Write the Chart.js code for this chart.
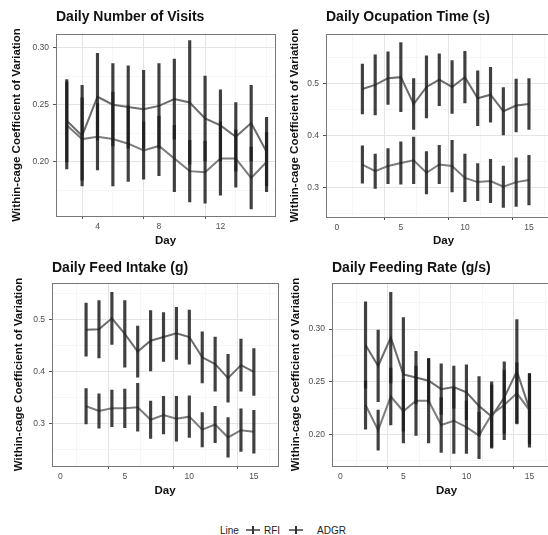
<!DOCTYPE html>
<html>
<head>
<meta charset="utf-8">
<script src="https://cdn.jsdelivr.net/npm/chart.js@4.4.0/dist/chart.umd.min.js"></script>
<style>
  html, body { margin: 0; padding: 0; background: #fff; width: 548px; height: 535px; overflow: hidden; position: relative; }
  canvas { position: absolute; }
  #legend { position: absolute; top: 523px; left: 220px; height: 14px; display: flex; align-items: center;
            font: 10px "Liberation Sans", Arial, sans-serif; color: #222; white-space: nowrap; }
  #legend .key { display: inline-block; position: relative; width: 14px; height: 12px; }
  #legend .key::before { content: ""; position: absolute; left: 0; right: 0; top: 5px; height: 2px; background: #707070; }
  #legend .key::after { content: ""; position: absolute; left: 6px; width: 2px; top: 2px; bottom: 2px; background: #333; }
</style>
</head>
<body>
<canvas id="chart_visits" width="280" height="252" style="left:0;top:0"></canvas>
<canvas id="chart_occupation" width="300" height="252" style="left:270px;top:0"></canvas>
<canvas id="chart_intake" width="285" height="252" style="left:0;top:250px"></canvas>
<canvas id="chart_rate" width="300" height="252" style="left:270px;top:250px"></canvas>
<div id="legend"></div>

<script>
const days = [2, 3, 4, 5, 6, 7, 8, 9, 10, 11, 12, 13, 14, 15];
const seriesNames = ['RFI', 'ADGR'];

// Daily Number of Visits
const visitsRfiMean = [0.236, 0.223, 0.257, 0.250, 0.248, 0.246, 0.249, 0.255, 0.252, 0.238, 0.232, 0.222, 0.234, 0.209];
const visitsRfiSe   = [0.036, 0.044, 0.038, 0.036, 0.036, 0.034, 0.037, 0.035, 0.054, 0.037, 0.031, 0.030, 0.033, 0.030];
const visitsAdgrMean = [0.232, 0.220, 0.222, 0.220, 0.216, 0.210, 0.214, 0.203, 0.192, 0.191, 0.203, 0.203, 0.186, 0.200];
const visitsAdgrSe   = [0.038, 0.036, 0.029, 0.041, 0.033, 0.025, 0.026, 0.029, 0.027, 0.027, 0.032, 0.025, 0.027, 0.026];

// Daily Ocupation Time (s)
const occupRfiMean = [0.490, 0.498, 0.511, 0.513, 0.461, 0.494, 0.508, 0.494, 0.513, 0.472, 0.479, 0.447, 0.458, 0.461];
const occupRfiSe   = [0.048, 0.058, 0.051, 0.067, 0.049, 0.060, 0.050, 0.051, 0.050, 0.053, 0.053, 0.046, 0.051, 0.049];
const occupAdgrMean = [0.344, 0.331, 0.341, 0.347, 0.352, 0.328, 0.344, 0.341, 0.318, 0.310, 0.312, 0.301, 0.310, 0.314];
const occupAdgrSe   = [0.036, 0.033, 0.034, 0.041, 0.045, 0.041, 0.037, 0.050, 0.046, 0.036, 0.042, 0.040, 0.047, 0.048];

// Daily Feed Intake (g)
const intakeRfiMean = [0.481, 0.482, 0.503, 0.473, 0.439, 0.460, 0.467, 0.474, 0.467, 0.428, 0.415, 0.388, 0.413, 0.400];
const intakeRfiSe   = [0.051, 0.055, 0.050, 0.064, 0.049, 0.058, 0.047, 0.050, 0.052, 0.049, 0.052, 0.046, 0.050, 0.045];
const intakeAdgrMean = [0.334, 0.325, 0.330, 0.330, 0.332, 0.308, 0.317, 0.310, 0.314, 0.289, 0.299, 0.274, 0.288, 0.285];
const intakeAdgrSe   = [0.034, 0.033, 0.035, 0.037, 0.046, 0.036, 0.036, 0.043, 0.040, 0.033, 0.035, 0.038, 0.041, 0.041];

// Daily Feeding Rate (g/s)
const rateRfiMean = [0.285, 0.265, 0.292, 0.257, 0.254, 0.251, 0.243, 0.245, 0.240, 0.227, 0.217, 0.235, 0.260, 0.224];
const rateRfiSe   = [0.041, 0.034, 0.043, 0.054, 0.025, 0.021, 0.024, 0.020, 0.026, 0.028, 0.030, 0.034, 0.049, 0.033];
const rateAdgrMean = [0.228, 0.204, 0.236, 0.222, 0.232, 0.232, 0.209, 0.213, 0.207, 0.199, 0.219, 0.228, 0.239, 0.223];
const rateAdgrSe   = [0.023, 0.019, 0.027, 0.030, 0.033, 0.040, 0.026, 0.031, 0.025, 0.022, 0.031, 0.033, 0.029, 0.035];

const FONT = '"Liberation Sans", Arial, sans-serif';
const lineColors = ['#6c6c6c', '#7c7c7c'];
const barColor = 'rgba(30, 30, 30, 0.85)';

function isStep(v, step) {
  return Math.abs(v / step - Math.round(v / step)) < 1e-6;
}

// major / minor styling for grid lines and tick marks
function byTick(step, major, minor) {
  return (ctx) => (ctx.tick && isStep(ctx.tick.value, step)) ? major : minor;
}

// draws the full panel frame like ggplot's panel.border
const panelBorder = {
  id: 'panelBorder',
  afterDraw(chart) {
    const {ctx, chartArea: a} = chart;
    ctx.save();
    ctx.strokeStyle = '#777';
    ctx.lineWidth = 1;
    ctx.strokeRect(Math.round(a.left) + 0.5, Math.round(a.top) + 0.5,
                   Math.round(a.right - a.left), Math.round(a.bottom - a.top));
    ctx.restore();
  }
};

function errorBars(label, mean, se) {
  return {
    type: 'bar',
    label: label,
    data: days.map((d, i) => ({x: d, y: [mean[i] - se[i], mean[i] + se[i]]})),
    backgroundColor: barColor,
    borderWidth: 0,
    barThickness: 2.5,
    grouped: false,
    order: 0
  };
}

function meanLine(label, mean, color) {
  return {
    type: 'line',
    label: label,
    data: days.map((d, i) => ({x: d, y: mean[i]})),
    borderColor: color,
    borderWidth: 2,
    pointRadius: 0,
    tension: 0,
    order: 1
  };
}

function makePanel(id, p) {
  const xMajor = p.xMajor, yMajor = p.yMajor;
  return new Chart(document.getElementById(id), {
    type: 'line',
    data: {
      datasets: [
        errorBars(seriesNames[0], p.rfiMean, p.rfiSe),
        errorBars(seriesNames[1], p.adgrMean, p.adgrSe),
        meanLine(seriesNames[0], p.rfiMean, lineColors[0]),
        meanLine(seriesNames[1], p.adgrMean, lineColors[1])
      ]
    },
    plugins: [panelBorder],
    options: {
      responsive: false,
      animation: false,
      events: [],
      layout: { padding: { left: 0, right: p.padRight, top: 0, bottom: 0 } },
      plugins: {
        legend: { display: false },
        tooltip: { enabled: false },
        title: {
          display: true,
          text: p.title,
          align: 'start',
          fullSize: false,
          color: '#111',
          font: { family: FONT, size: 14, weight: 'bold', lineHeight: 1.2 },
          padding: { top: p.titleTop, bottom: p.titleBottom }
        }
      },
      scales: {
        x: {
          type: 'linear',
          min: p.xMin,
          max: p.xMax,
          offset: false,
          afterFit: (scale) => { scale.height = p.xHeight; },
          border: { display: false },
          grid: {
            color: byTick(xMajor, '#e4e4e4', '#f2f2f2'),
            lineWidth: byTick(xMajor, 1, 0.7),
            tickColor: byTick(xMajor, '#555', 'rgba(0,0,0,0)'),
            tickLength: 3
          },
          ticks: {
            stepSize: xMajor / 2,
            includeBounds: false,
            autoSkip: false,
            maxRotation: 0,
            padding: 3,
            color: '#4d4d4d',
            font: { family: FONT, size: 8.5 },
            callback: (v) => isStep(v, xMajor) ? String(Math.round(v)) : ''
          },
          title: {
            display: true,
            text: 'Day',
            color: '#111',
            font: { family: FONT, size: 11.5, weight: 'bold', lineHeight: 1.2 },
            padding: { top: 0, bottom: 4 }
          }
        },
        y: {
          type: 'linear',
          min: p.yMin,
          max: p.yMax,
          afterFit: (scale) => { scale.width = p.yWidth; },
          border: { display: false },
          grid: {
            color: byTick(yMajor, '#e4e4e4', '#f2f2f2'),
            lineWidth: byTick(yMajor, 1, 0.7),
            tickColor: byTick(yMajor, '#555', 'rgba(0,0,0,0)'),
            tickLength: 3
          },
          ticks: {
            stepSize: yMajor / 2,
            includeBounds: false,
            autoSkip: false,
            padding: 4,
            color: '#4d4d4d',
            font: { family: FONT, size: 8.5 },
            callback: (v) => isStep(v, yMajor) ? v.toFixed(p.yDecimals) : ''
          },
          title: {
            display: true,
            text: 'Within-cage Coefficient of Variation',
            color: '#111',
            font: { family: FONT, size: 11.5, weight: 'bold', lineHeight: 1.2 },
            padding: { top: p.yTitlePad, bottom: 0 }
          }
        }
      }
    }
  });
}

makePanel('chart_visits', {
  title: 'Daily Number of Visits',
  rfiMean: visitsRfiMean, rfiSe: visitsRfiSe, adgrMean: visitsAdgrMean, adgrSe: visitsAdgrSe,
  xMin: 1.3, xMax: 15.55, xMajor: 4,
  yMin: 0.1528, yMax: 0.312, yMajor: 0.05, yDecimals: 2,
  padRight: 5, yWidth: 56, xHeight: 36, titleTop: 9, titleBottom: 8, yTitlePad: 10
});

makePanel('chart_occupation', {
  title: 'Daily Ocupation Time (s)',
  rfiMean: occupRfiMean, rfiSe: occupRfiSe, adgrMean: occupAdgrMean, adgrSe: occupAdgrSe,
  xMin: -0.84, xMax: 17.5, xMajor: 5,
  yMin: 0.2425, yMax: 0.5968, yMajor: 0.1, yDecimals: 1,
  padRight: 9, yWidth: 56, xHeight: 35, titleTop: 9, titleBottom: 8, yTitlePad: 18
});

// note: (max - min) must not be a whole number of steps, or Chart.js anchors ticks on min
makePanel('chart_intake', {
  title: 'Daily Feed Intake (g)',
  rfiMean: intakeRfiMean, rfiSe: intakeRfiSe, adgrMean: intakeAdgrMean, adgrSe: intakeAdgrSe,
  xMin: -0.64, xMax: 16.87, xMajor: 5,
  yMin: 0.2192, yMax: 0.5712, yMajor: 0.1, yDecimals: 1,
  padRight: 7, yWidth: 52, xHeight: 36, titleTop: 10, titleBottom: 6, yTitlePad: 11.5
});

makePanel('chart_rate', {
  title: 'Daily Feeding Rate (g/s)',
  rfiMean: rateRfiMean, rfiSe: rateRfiSe, adgrMean: rateAdgrMean, adgrSe: rateAdgrSe,
  xMin: -0.66, xMax: 17.5, xMajor: 5,
  yMin: 0.170, yMax: 0.344, yMajor: 0.05, yDecimals: 2,
  padRight: 9, yWidth: 62, xHeight: 36, titleTop: 10, titleBottom: 6, yTitlePad: 19
});

// legend built from the series names
const legend = document.getElementById('legend');
const head = document.createElement('span');
head.textContent = 'Line';
legend.appendChild(head);
const keyGaps = [7, 9];
const labelGaps = [4, 14];
seriesNames.forEach((name, i) => {
  const key = document.createElement('span');
  key.className = 'key';
  key.style.marginLeft = keyGaps[i] + 'px';
  legend.appendChild(key);
  const txt = document.createElement('span');
  txt.textContent = name;
  txt.style.marginLeft = labelGaps[i] + 'px';
  legend.appendChild(txt);
});
</script>
</body>
</html>
